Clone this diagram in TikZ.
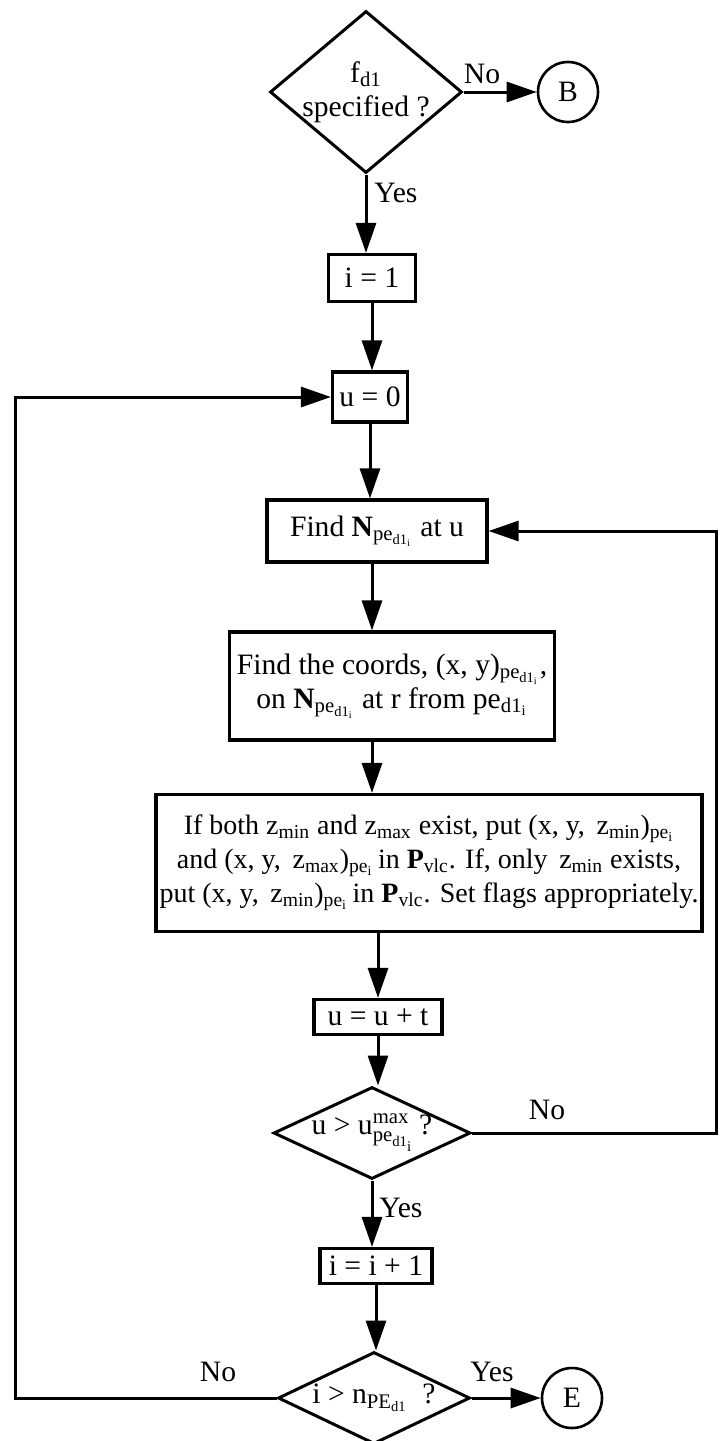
\documentclass[tikz,border=0pt]{standalone}
\usepackage{fontspec}
\setmainfont{Liberation Serif}
\usepackage{amsmath}
\usetikzlibrary{arrows.meta,shapes.geometric}
\newcommand{\pedi}{pe\textsubscript{d1\textsubscript{i}}}
\newcommand{\pei}{\textsubscript{pe\textsubscript{i}}}
\begin{document}
\begin{tikzpicture}[x=0.5pt,y=-0.5pt,
  font=\fontsize{14.8}{17}\selectfont,
  box/.style={draw,line width=1.6pt,inner sep=1pt,align=center},
  test/.style={draw,diamond,line width=1.5pt,align=center},
  conn/.style={draw,circle,line width=1.3pt,minimum size=30pt,inner sep=0pt},
  flow/.style={line width=1.5pt,-{Triangle[length=15pt,width=10pt]}},
  lbl/.style={inner sep=1pt}]
\useasboundingbox (0,0) rectangle (719,1441);
% decision on f_d1
\node[test,inner xsep=-3pt,inner ysep=0pt,aspect=1.2,minimum width=96pt,minimum height=81pt] (fspec) at (366,92) {f\textsubscript{d1}\\specified ?};
\node[conn] (B) at (568,92) {B};
\node[lbl] (noB) at (482,74) {No};
\node[lbl,anchor=west] (yesA) at (372,193) {Yes};
% boxes down the main axis
\node[box,minimum width=43.5pt,minimum height=23.5pt] (iset) at (372,278) {i = 1};
\node[box,minimum width=37.5pt,minimum height=25pt] (uzero) at (370,397) {u = 0};
\node[box,minimum width=110pt,minimum height=31pt] (findN) at (377,531) {Find \textbf{N}\textsubscript{\pedi} at u};
\node[box,minimum width=162.5pt,minimum height=54pt] (coords) at (392,686)
  {Find the coords, (x, y)\textsubscript{\pedi},\\ on \textbf{N}\textsubscript{\pedi} at r from pe\textsubscript{d1\textsubscript{i}}};
\node[box,font=\fontsize{14}{17}\selectfont,minimum width=273pt,minimum height=68.5pt] (zput) at (429,863)
  {If both z\textsubscript{min} and z\textsubscript{max} exist, put (x, y,\ \,z\textsubscript{min})\pei\\
   and (x, y,\ \,z\textsubscript{max})\pei\,in \textbf{P}\textsubscript{vlc}. If, only\ \,z\textsubscript{min} exists,\\
   put (x, y,\ \,z\textsubscript{min})\pei\,in \textbf{P}\textsubscript{vlc}. Set flags appropriately.};
\node[box,minimum width=64pt,minimum height=17.5pt] (uinc) at (378,1017) {u = u + t};
\node[test,inner xsep=-8pt,inner ysep=-4pt,aspect=2,minimum width=98.5pt,minimum height=46pt] (umax) at (372,1133)
  {u > $\text{u}^{\text{max}}_{\text{pe}_{\text{d1}_{\text{i}}}}$\,?};
\node[lbl] (noU) at (547,1110) {No};
\node[lbl,anchor=west] (yesU) at (377,1208) {Yes};
\node[box,minimum width=56pt,minimum height=17.5pt] (iinc) at (376,1266) {i = i + 1};
\node[test,inner xsep=-8pt,inner ysep=-4pt,aspect=2,minimum width=96pt,minimum height=46pt] (iend) at (374,1398)
  {i > n\textsubscript{PE\textsubscript{d1}}\ \ ?};
\node[lbl] (noI) at (218,1372) {No};
\node[lbl] (yesI) at (492,1372) {Yes};
\node[conn] (E) at (572,1398) {E};
\coordinate (lx) at (15,0);
\coordinate (rx) at (716,0);
% connectors
\draw[flow] (fspec.east) -- (B.west);
\draw[flow] (fspec.south) -- (fspec.south |- iset.north);
\draw[flow] (iset.south) -- (iset.south |- uzero.north);
\draw[flow] (uzero.south) -- (uzero.south |- findN.north);
\draw[flow] (findN.south -| iset) -- (coords.north -| iset);
\draw[flow] (coords.south -| iset) -- (zput.north -| iset);
\draw[flow] (zput.south -| uinc) -- (uinc.north);
\draw[flow] (uinc.south) -- (uinc.south |- umax.north);
\draw[flow] (umax.south) -- (umax.south |- iinc.north);
\draw[flow] (iinc.south) -- (iinc.south |- iend.north);
\draw[flow] (iend.east) -- (E.west);
\draw[flow] (umax.east) -- (umax.east -| rx) |- (findN.east);
\draw[flow] (iend.west) -- (iend.west -| lx) |- (uzero.west);
\end{tikzpicture}
\end{document}
